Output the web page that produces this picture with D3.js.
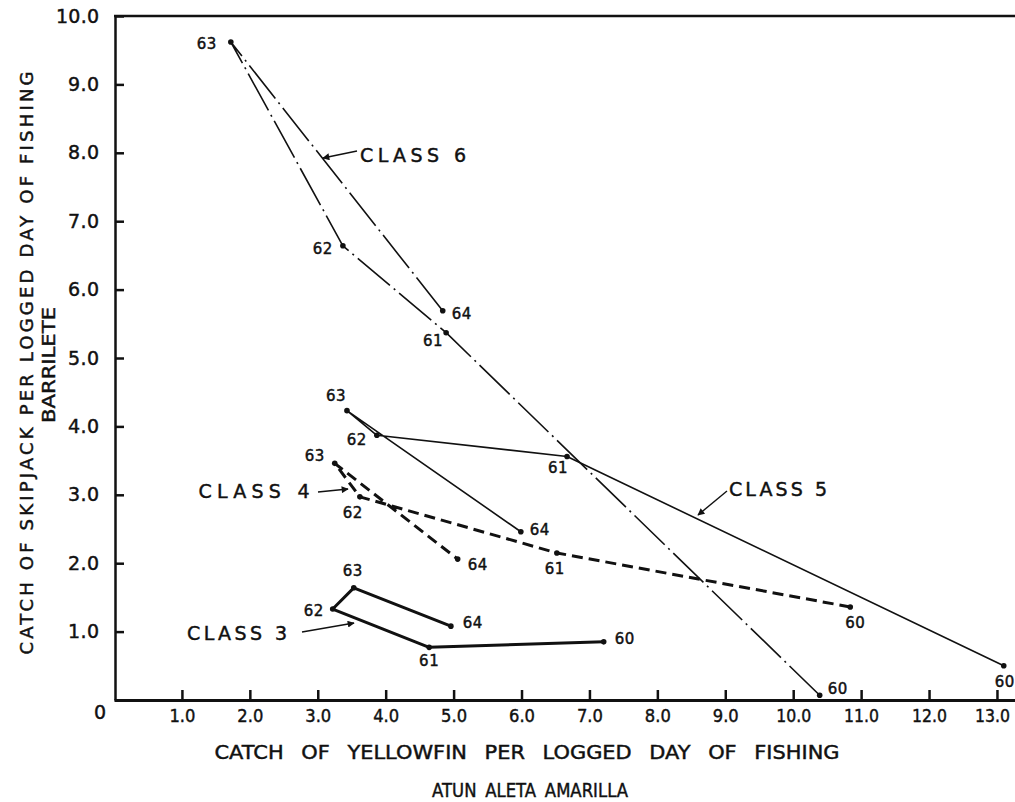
<!DOCTYPE html>
<html>
<head>
<meta charset="utf-8">
<script src="https://cdn.jsdelivr.net/npm/d3@7"></script>
<style>
  html, body { margin: 0; padding: 0; background: #fff; }
  svg { display: block; }
  text { fill: #111; stroke: #111; stroke-width: 0.45px; font-family: "DejaVu Sans", sans-serif; }
</style>
</head>
<body>
<div id="chart"></div>
<script>
// years plotted along each class trace, in drawing order
const years = ['60', '61', '62', '63', '64'];

// catch of yellowfin per logged day (x) and skipjack per logged day (y)
const class6X = [10.39, 4.89, 3.37, 1.72, 4.84];
const class6Y = [0.07, 5.37, 6.64, 9.62, 5.69];
const class5X = [13.10, 6.67, 3.87, 3.43, 5.99];
const class5Y = [0.50, 3.56, 3.87, 4.23, 2.46];
const class4X = [10.84, 6.52, 3.62, 3.25, 5.06];
const class4Y = [1.36, 2.15, 2.97, 3.46, 2.06];
const class3X = [7.21, 4.64, 3.22, 3.53, 4.96];
const class3Y = [0.85, 0.77, 1.33, 1.64, 1.08];

const xTicks = [1, 2, 3, 4, 5, 6, 7, 8, 9, 10, 11, 12, 13];
const yTicks = [1, 2, 3, 4, 5, 6, 7, 8, 9, 10];

const width = 1015, height = 802;

const svg = d3.select('#chart')
    .append('svg')
    .attr('width', width)
    .attr('height', height);

const x = d3.scaleLinear().domain([0, 13.3]).range([114, 114 + 13.3 * 67.92]);
const y = d3.scaleLinear().domain([0, 10]).range([700, 16]);

// label offsets (px) for the year tags, same order as years
const classes = [
    { name: 'CLASS 6', xs: class6X, ys: class6Y, width: 1.6, dash: '42,5,2,5',
      offs: [[18, -6], [-13, 8], [-20, 3], [-24, 2], [19, 3]] },
    { name: 'CLASS 5', xs: class5X, ys: class5Y, width: 1.6, dash: null,
      offs: [[1, 16], [-9, 12], [-20, 5], [-11, -15], [19, -2]] },
    { name: 'CLASS 4', xs: class4X, ys: class4Y, width: 3, dash: '11,6',
      offs: [[5, 16], [-2, 16], [-7, 16], [-20, -7], [20, 6]] },
    { name: 'CLASS 3', xs: class3X, ys: class3Y, width: 3, dash: null,
      offs: [[21, -3], [0, 14], [-19, 2], [-1, -17], [22, -3]] }
];

// axes
const yAxis = d3.axisLeft(y)
    .tickValues(yTicks)
    .tickFormat(d3.format('.1f'))
    .tickSizeInner(-9)
    .tickSizeOuter(0)
    .tickPadding(15);

const gy = svg.append('g')
    .attr('transform', `translate(${x(0) + 1},0)`)
    .call(yAxis);
gy.select('.domain').attr('stroke', '#111').attr('stroke-width', 2.5);
gy.selectAll('.tick line').attr('stroke', '#111').attr('stroke-width', 2.5);
gy.selectAll('.tick text')
    .attr('font-size', 19)
    .attr('letter-spacing', 1)
    .attr('textLength', d => d >= 10 ? 44 : 32)
    .attr('lengthAdjust', 'spacing');

const xAxis = d3.axisBottom(x)
    .tickValues(xTicks)
    .tickFormat(d3.format('.1f'))
    .tickSizeInner(-10)
    .tickSizeOuter(0)
    .tickPadding(9);

const gx = svg.append('g')
    .attr('transform', `translate(0,${y(0)})`)
    .call(xAxis);
gx.select('.domain').attr('stroke', '#111').attr('stroke-width', 3);
gx.selectAll('.tick line').attr('stroke', '#111').attr('stroke-width', 2.5);
gx.selectAll('.tick text')
    .attr('font-size', 18)
    .attr('dx', d => d === 13 ? -5 : 0)
    .attr('textLength', d => d >= 10 ? 35 : 26)
    .attr('lengthAdjust', 'spacingAndGlyphs');

// top frame line
svg.append('line')
    .attr('x1', x(0)).attr('x2', width)
    .attr('y1', y(10)).attr('y2', y(10))
    .attr('stroke', '#111').attr('stroke-width', 2.5);

svg.append('text')
    .attr('x', 100).attr('y', 712)
    .attr('text-anchor', 'middle')
    .attr('dominant-baseline', 'central')
    .attr('font-size', 19)
    .text('0');

// axis titles
svg.append('text')
    .attr('x', 527).attr('y', 752)
    .attr('text-anchor', 'middle')
    .attr('dominant-baseline', 'central')
    .attr('font-size', 19)
    .attr('word-spacing', 10)
    .attr('textLength', 625)
    .attr('lengthAdjust', 'spacingAndGlyphs')
    .text('CATCH OF YELLOWFIN PER  LOGGED DAY OF FISHING');

svg.append('text')
    .attr('x', 530).attr('y', 790)
    .attr('text-anchor', 'middle')
    .attr('dominant-baseline', 'central')
    .attr('font-size', 19)
    .attr('word-spacing', 4)
    .attr('textLength', 196)
    .attr('lengthAdjust', 'spacingAndGlyphs')
    .text('ATUN ALETA AMARILLA');

svg.append('text')
    .attr('transform', 'translate(26,363) rotate(-90)')
    .attr('text-anchor', 'middle')
    .attr('dominant-baseline', 'central')
    .attr('font-size', 18)
    .attr('textLength', 583)
    .attr('lengthAdjust', 'spacing')
    .text('CATCH OF SKIPJACK PER LOGGED DAY OF FISHING');

svg.append('text')
    .attr('transform', 'translate(48,365) rotate(-90)')
    .attr('text-anchor', 'middle')
    .attr('dominant-baseline', 'central')
    .attr('font-size', 18)
    .attr('textLength', 116)
    .attr('lengthAdjust', 'spacingAndGlyphs')
    .text('BARRILETE');

// traces
const line = d3.line().x(d => x(d[0])).y(d => y(d[1]));

classes.forEach(c => {
    const pts = c.xs.map((v, i) => [v, c.ys[i]]);
    const g = svg.append('g');

    g.append('path')
        .datum(pts)
        .attr('d', line)
        .attr('fill', 'none')
        .attr('stroke', '#111')
        .attr('stroke-width', c.width)
        .attr('stroke-linejoin', 'round')
        .attr('stroke-dasharray', c.dash);

    g.selectAll('circle')
        .data(pts)
        .join('circle')
        .attr('cx', d => x(d[0]))
        .attr('cy', d => y(d[1]))
        .attr('r', 2.8)
        .attr('fill', '#111');

    g.selectAll('text')
        .data(pts)
        .join('text')
        .attr('x', (d, i) => x(d[0]) + c.offs[i][0])
        .attr('y', (d, i) => y(d[1]) + c.offs[i][1])
        .attr('text-anchor', 'middle')
        .attr('dominant-baseline', 'central')
        .attr('font-size', 15)
        .attr('letter-spacing', 0.5)
        .text((d, i) => years[i]);
});

// class callouts with arrows
svg.append('defs').append('marker')
    .attr('id', 'arrow')
    .attr('viewBox', '0 0 10 10')
    .attr('refX', 9).attr('refY', 5)
    .attr('markerWidth', 10).attr('markerHeight', 7)
    .attr('markerUnits', 'userSpaceOnUse')
    .attr('orient', 'auto')
    .append('path')
    .attr('d', 'M0,0L10,5L0,10z')
    .attr('fill', '#111');

const callouts = [
    { text: 'CLASS 6', cx: 413, cy: 155, len: 106, from: [357, 151], to: [323, 158] },
    { text: 'CLASS 4', cx: 254, cy: 491, len: 111, from: [318, 492], to: [348, 489] },
    { text: 'CLASS 3', cx: 237, cy: 633, len: 100, from: [302, 632], to: [354, 623] },
    { text: 'CLASS 5', cx: 778, cy: 489, len: 98, from: [727, 491], to: [698, 515] }
];

callouts.forEach(c => {
    svg.append('text')
        .attr('x', c.cx).attr('y', c.cy)
        .attr('text-anchor', 'middle')
        .attr('dominant-baseline', 'central')
        .attr('font-size', 19)
        .attr('textLength', c.len)
        .attr('lengthAdjust', 'spacing')
        .text(c.text);
    svg.append('line')
        .attr('x1', c.from[0]).attr('y1', c.from[1])
        .attr('x2', c.to[0]).attr('y2', c.to[1])
        .attr('stroke', '#111')
        .attr('stroke-width', 1.4)
        .attr('marker-end', 'url(#arrow)');
});
</script>
</body>
</html>
